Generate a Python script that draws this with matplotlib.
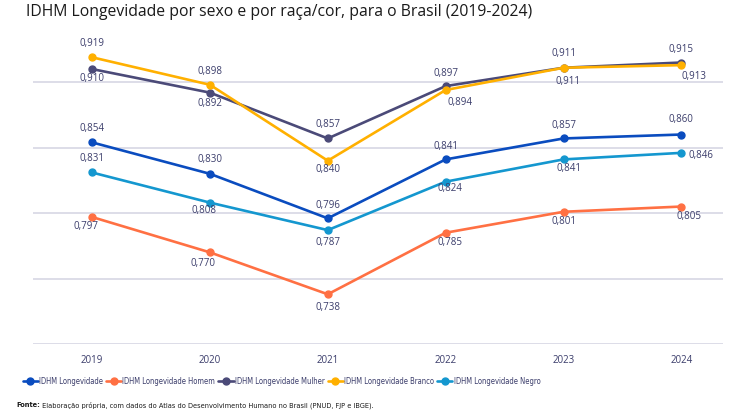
import matplotlib.pyplot as plt

plt.rcParams['font.family'] = ['Open Sans', 'DejaVu Sans']
narrow = ['DejaVu Sans']

# Data
anos = ['2019', '2020', '2021', '2022', '2023', '2024']
series_nomes = ['IDHM Longevidade', 'IDHM Longevidade Homem', 'IDHM Longevidade Mulher',
                'IDHM Longevidade Branco', 'IDHM Longevidade Negro']
longevidade = [0.854, 0.830, 0.796, 0.841, 0.857, 0.860]
homem = [0.797, 0.770, 0.738, 0.785, 0.801, 0.805]
mulher = [0.910, 0.892, 0.857, 0.897, 0.911, 0.915]
branco = [0.919, 0.898, 0.840, 0.894, 0.911, 0.913]
negro = [0.831, 0.808, 0.787, 0.824, 0.841, 0.846]

cores = ['#0a4cbf', '#ff7043', '#4b4a78', '#ffb000', '#1497cf']

# label offsets in pixels (dx, dy), dy positive = up
offsets = [
    [(0, 14), (0, 14), (0, 13), (0, 13), (0, 13), (0, 15)],
    [(-6, -9), (-7, -11), (0, -13), (4, -10), (0, -10), (8, -10)],
    [(0, -9), (0, -11), (0, 14), (0, 13), (0, 14), (0, 13)],
    [(0, 14), (0, 13), (0, -9), (14, -12), (4, -14), (13, -11)],
    [(0, 14), (-6, -8), (0, -12), (4, -7), (5, -9), (20, -3)],
]

fig = plt.figure(figsize=(7.52, 4.17), dpi=100)
ax = fig.add_axes([0.044, 0.175, 0.917, 0.785])

x = list(range(len(anos)))
dados = [longevidade, homem, mulher, branco, negro]
for nome, vals, cor, offs in zip(series_nomes, dados, cores, offsets):
    ax.plot(x, vals, color=cor, lw=1.9, marker='o', ms=5, label=nome,
            solid_capstyle='round')
    for xi, v, (dx, dy) in zip(x, vals, offs):
        ax.annotate(f"{v:.3f}".replace('.', ','), (xi, v), xytext=(dx, dy),
                    textcoords='offset pixels', ha='center', va='center',
                    fontsize=7, color='#3b3d6b')

ax.set_xlim(-0.5, 5.35)
ax.set_ylim(0.70, 0.95)
ax.set_yticks([0.70, 0.75, 0.80, 0.85, 0.90])
ax.set_yticklabels([])
ax.set_xticks(x)
ax.set_xticklabels(anos, fontsize=7, color='#3b3d6b')
ax.tick_params(length=0, pad=8)
ax.grid(axis='y', color='#dadae6', lw=1.3)
ax.set_axisbelow(True)
for s in ax.spines.values():
    s.set_visible(False)

fig.text(0.034, 0.972, 'IDHM Longevidade por sexo e por raça/cor, para o Brasil (2019-2024)',
         fontsize=11.3, color='#1a1a1a', va='center', ha='left')

fig.legend(loc='center left', bbox_to_anchor=(0.03, 0.086), ncol=5, frameon=False,
           prop={'family': narrow, 'size': 5.5, 'stretch': 'condensed'}, handlelength=2.0,
           handletextpad=0.15, columnspacing=0.4, labelcolor='#3b3d6b', borderpad=0,
           borderaxespad=0)

fonte = fig.text(0.022, 0.028, 'Fonte:', fontsize=5.3, fontweight='bold', color='#1a1a1a',
                 va='center', ha='left', family=narrow, fontstretch='condensed')
ax.annotate(' Elaboração própria, com dados do Atlas do Desenvolvimento Humano no Brasil (PNUD, FJP e IBGE).',
            xy=(1, 0.5), xycoords=fonte, va='center', ha='left', fontsize=5.3,
            color='#1a1a1a', annotation_clip=False, family=narrow, fontstretch='condensed')

fig.savefig('out.png', dpi=100)
